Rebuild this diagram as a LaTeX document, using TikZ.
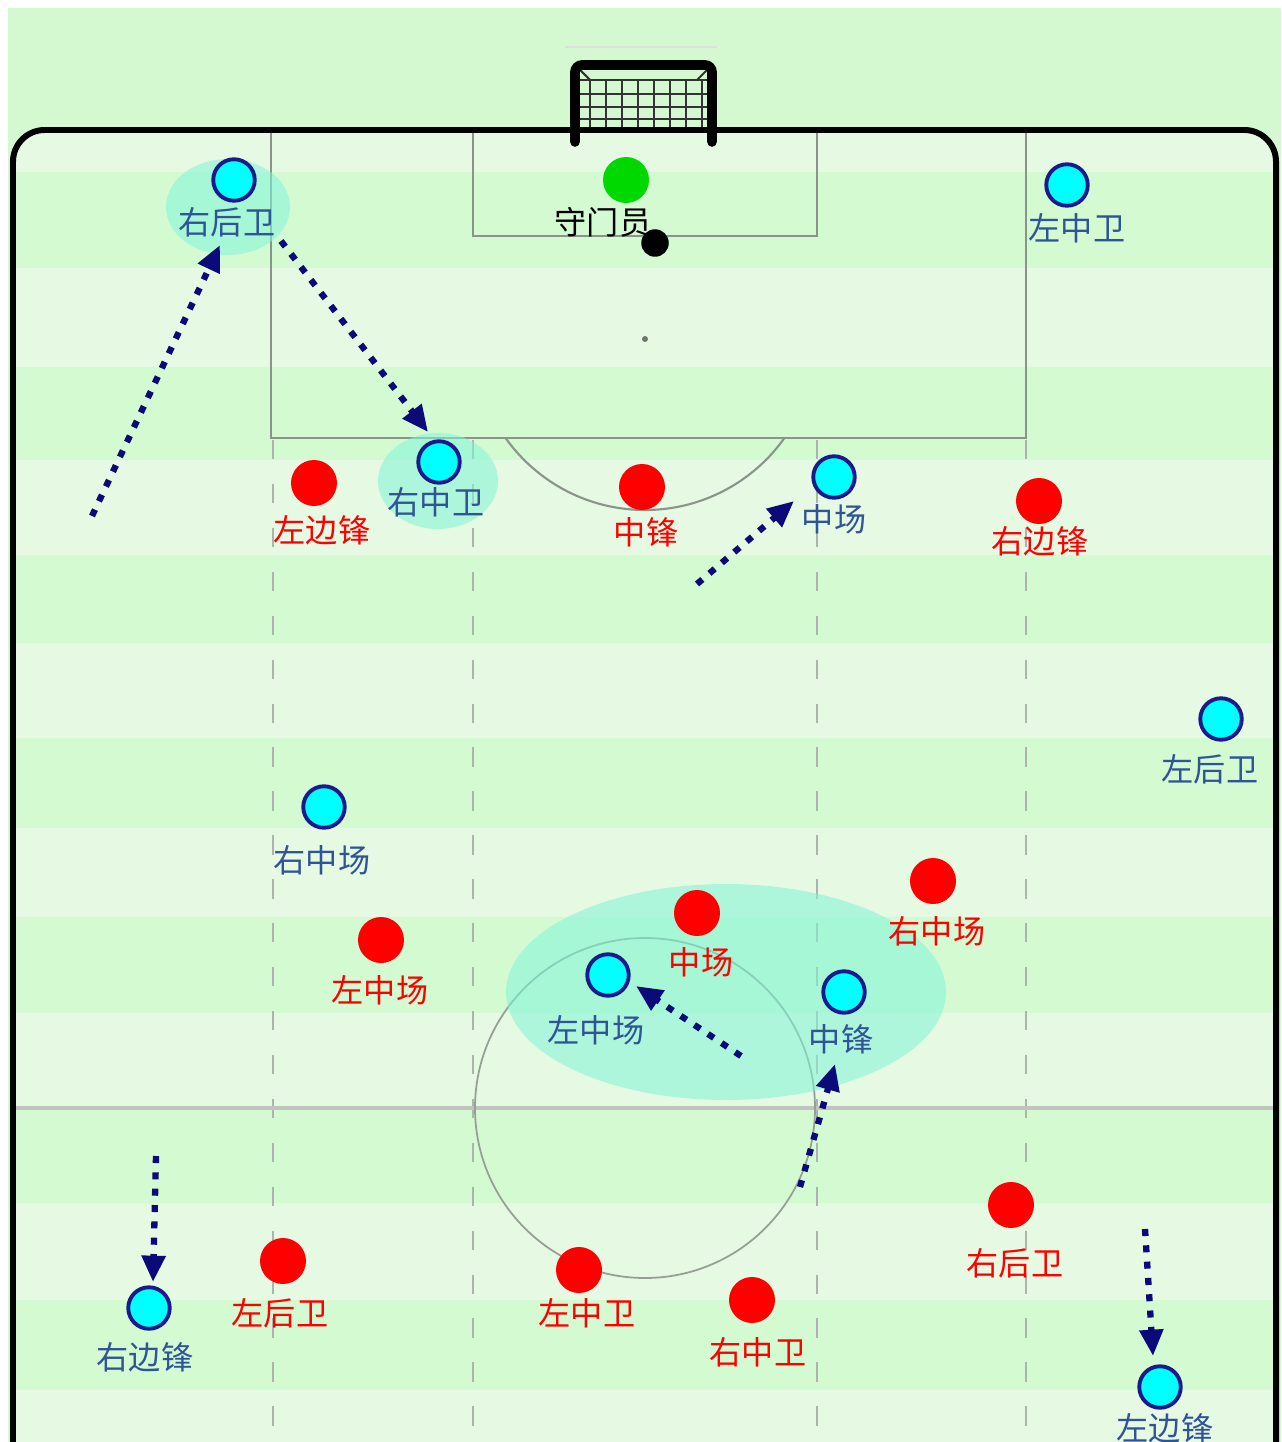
\documentclass[tikz,border=0pt]{standalone}
\usepackage{fontspec}
\usepackage{xcolor}
\usepackage{tikz}
\usetikzlibrary{arrows.meta}
\newfontfamily\cjk{Noto Sans CJK SC}
\definecolor{grasslight}{HTML}{E6F9E3}
\definecolor{grassdark}{HTML}{D4FAD2}
\definecolor{grassout}{HTML}{D4F9D0}
\definecolor{bluefill}{HTML}{00FFFF}
\definecolor{blueedge}{HTML}{1A1A8A}
\definecolor{bluetext}{HTML}{2F5597}
\definecolor{movenavy}{HTML}{0A0A78}
\definecolor{linegray}{HTML}{8A948A}
\definecolor{hlcyan}{HTML}{7FF5D8}

\begin{document}
\begin{tikzpicture}[x=0.02cm, y=-0.02cm,
  bplayer/.style={circle, draw=blueedge, fill=bluefill, line width=2.2pt, minimum size=0.83cm, inner sep=0pt},
  rplayer/.style={circle, fill=red, minimum size=0.92cm, inner sep=0pt},
  blabel/.style={font=\cjk\fontsize{18.3}{20}\selectfont, text=bluetext, inner sep=0pt},
  rlabel/.style={font=\cjk\fontsize{18.3}{20}\selectfont, text=red, inner sep=0pt},
  pline/.style={draw=linegray, line width=1.2pt},
  lane/.style={draw=linegray!70, line width=1.6pt, dash pattern=on 11pt off 14pt},
  highlight/.style={fill=hlcyan, fill opacity=0.55},
  netline/.style={draw=black!80, line width=1.2pt},
  move/.style={draw=movenavy, line width=3.6pt, dash pattern=on 4pt off 5.3pt, -{Triangle[length=15pt, width=13pt]}},
]
\useasboundingbox (0,0) rectangle (1281,1442);
\fill[white] (0,0) rectangle (1281,1442);
\fill[grassout] (8,8) rectangle (1281,1442);

% stripes
\begin{scope}
  \clip[rounded corners=18] (13,1460) -- (13,130) -- (1276,130) -- (1276,1460) -- cycle;
  \fill[grasslight] (13,130) rectangle (1276,1442);
  \foreach \ya/\yb in {172/268, 367/460, 555/643, 738/828, 917/1013, 1109/1203, 1300/1390} {
    \fill[grassdark] (13,\ya) rectangle (1276,\yb);
  }
\end{scope}

% markings
\draw[pline] (271,130) rectangle (1026,438);
\draw[pline] (473,130) rectangle (817,236);
\fill[linegray!80!black] (645,339) circle (3);
\begin{scope}
  \clip (271,438) rectangle (1026,600);
  \draw[pline] (645,339) circle (171);
\end{scope}
\foreach \x in {273,473,817,1026} {
  \draw[lane] (\x,440) -- (\x,1442);
}
\draw[draw=linegray!55, line width=1.8pt] (13,1108) -- (1276,1108);
\draw[draw=linegray!90, line width=1pt] (645,1108) circle (170);

% goal
\draw[gray!25, line width=0.8pt] (565,47) -- (717,47);
\foreach \x in {590,606,622,638,654,670,686,702} {
  \draw[netline] (\x,80) -- (\x,130);
}
\foreach \y in {80,94,107,119} {
  \draw[netline] (580,\y) -- (707,\y);
}
\draw[netline] (580,70) -- (590,80) (707,70) -- (697,80);
\draw[line width=5.5pt, rounded corners=4, line cap=round] (575,142) -- (575,65) -- (712,65) -- (712,142);

% touchline
\draw[line width=3.4pt, rounded corners=18] (13,1460) -- (13,130) -- (1276,130) -- (1276,1460);

% highlighted zones
\fill[highlight] (228,207) ellipse [x radius=62, y radius=48];
\fill[highlight] (438,481) ellipse [x radius=60, y radius=48];
\fill[highlight] (726,992) ellipse [x radius=220, y radius=108];

% goalkeeper and ball
\node[circle, fill=green!85!black, minimum size=0.92cm, inner sep=0pt] (gk) at (626,180) {};
\node[font=\cjk\fontsize{18.3}{20}\selectfont, inner sep=0pt] (gklabel) at (603,222) {守门员};
\node[circle, fill=black, minimum size=0.55cm, inner sep=0pt] (ball) at (655,243) {};

% blue team
\foreach \n/\x/\y/\lx/\ly/\t in {%
  rb/234/180/227/222/右后卫,
  lcb/1067/185/1077/228/左中卫,
  rcb/439/462/436/502/右中卫,
  cm/834/477/834/519/中场,
  lb/1221/719/1210/769/左后卫,
  rm/324/807/322/860/右中场,
  lm/608/975/596/1030/左中场,
  cf/844/992/841/1039/中锋,
  rw/149/1308/145/1357/右边锋,
  lw/1160/1387/1165/1428/左边锋%
} {
  \node[bplayer] (b\n) at (\x,\y) {};
  \node[blabel] (bl\n) at (\lx,\ly) {\t};
}

% red team
\foreach \n/\x/\y/\lx/\ly/\t in {%
  lw/314/483/322/530/左边锋,
  cf/642/487/646/532/中锋,
  rw/1039/501/1040/541/右边锋,
  cm/697/913/701/962/中场,
  rm/933/881/937/931/右中场,
  lm/381/940/380/990/左中场,
  lb/283/1261/280/1313/左后卫,
  lcb/579/1270/587/1313/左中卫,
  rcb/752/1300/758/1352/右中卫,
  rb/1011/1205/1015/1263/右后卫%
} {
  \node[rplayer] (r\n) at (\x,\y) {};
  \node[rlabel] (rl\n) at (\lx,\ly) {\t};
}

% runs
\foreach \i/\xa/\ya/\xb/\yb in {%
  1/92/516/220/245,
  2/281/241/428/432,
  3/697/584/794/501,
  4/741/1056/636/986,
  5/800/1187/835/1064,
  6/156/1156/153/1282,
  7/1145/1229/1153/1356%
} {
  \coordinate (run\i s) at (\xa,\ya);
  \coordinate (run\i e) at (\xb,\yb);
  \draw[move] (run\i s) -- (run\i e);
}
\end{tikzpicture}
\end{document}
